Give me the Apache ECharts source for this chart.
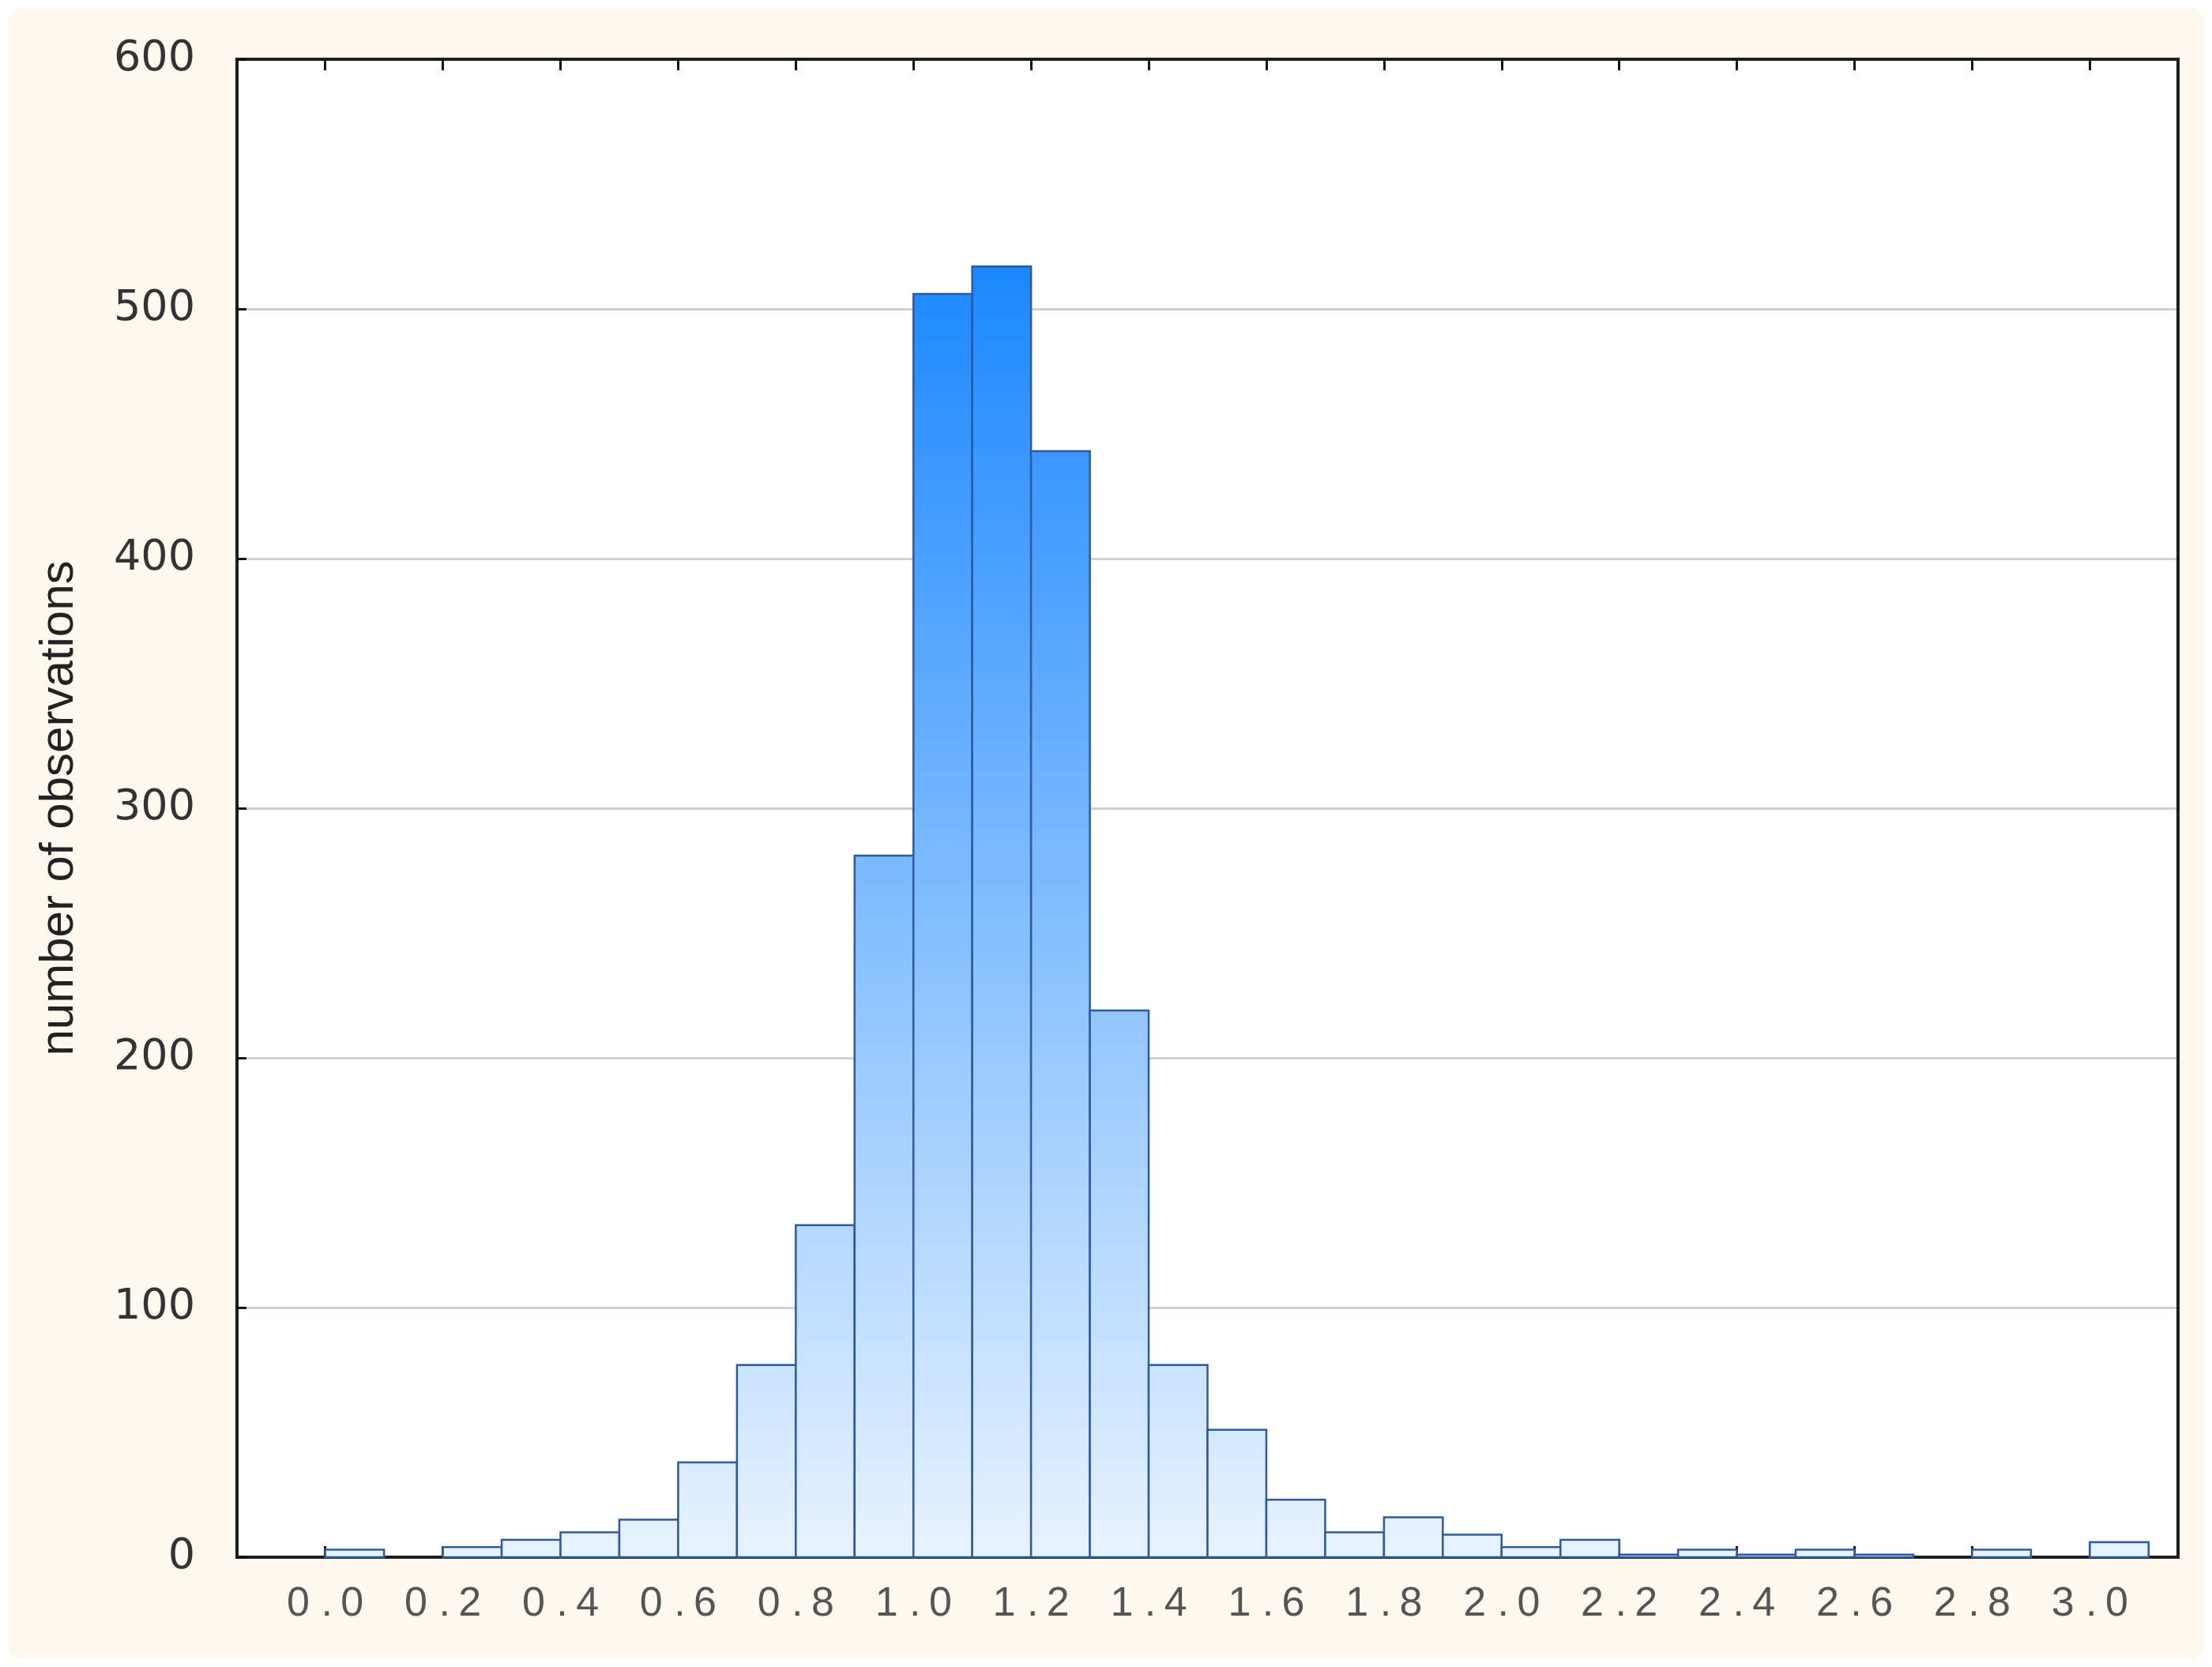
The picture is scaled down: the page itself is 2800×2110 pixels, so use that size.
<!DOCTYPE html>
<html>
<head>
<meta charset="utf-8">
<title>number of observations histogram</title>
<script src="https://cdn.jsdelivr.net/npm/echarts@6/dist/echarts.min.js"></script>
<style>
  html, body { margin: 0; padding: 0; background: #ffffff; }
  #frame {
    position: absolute; left: 10px; top: 10px; width: 2780px; height: 2090px;
    background: #fdf9ef; border-radius: 18px;
  }
  #chart { position: absolute; left: 0; top: 0; width: 2800px; height: 2110px; }
</style>
</head>
<body>
<div id="frame"></div>
<div id="chart"></div>
<script>
// histogram bins (left / right edge of each 0.1 wide bin)
const binStart = [0.0, 0.1, 0.2, 0.3, 0.4, 0.5, 0.6, 0.7, 0.8, 0.9,
                  1.0, 1.1, 1.2, 1.3, 1.4, 1.5, 1.6, 1.7, 1.8, 1.9,
                  2.0, 2.1, 2.2, 2.3, 2.4, 2.5, 2.6, 2.7, 2.8, 2.9, 3.0]
const binEnd = [0.1, 0.2, 0.3, 0.4, 0.5, 0.6, 0.7, 0.8, 0.9, 1.0,
                1.1, 1.2, 1.3, 1.4, 1.5, 1.6, 1.7, 1.8, 1.9, 2.0,
                2.1, 2.2, 2.3, 2.4, 2.5, 2.6, 2.7, 2.8, 2.9, 3.0, 3.1]
const counts = [3, 0, 4, 7, 10, 15, 38, 77, 133, 281,
                506, 517, 443, 219, 77, 51, 23, 10, 16, 9,
                4, 7, 1, 3, 1, 3, 1, 0, 3, 0, 6]

// tick labels
const xTicks = [0.0, 0.2, 0.4, 0.6, 0.8, 1.0, 1.2, 1.4, 1.6, 1.8, 2.0, 2.2, 2.4, 2.6, 2.8, 3.0]
const yAxisName = 'number of observations'

const chart = echarts.init(document.getElementById('chart'))

const histData = binStart.map((x0, i) => [x0, binEnd[i], counts[i]])

// "0 . 0" style labels like the original software
const fmtX = v => {
  const s = Number(v).toFixed(1).split('.')
  return s[0] + ' .\u2009' + s[1]
}

const frameLine = { show: true, onZero: false, lineStyle: { color: '#1e1e1e', width: 4 } }
const tickStyle = { color: '#111', width: 3 }

const option = {
  backgroundColor: 'transparent',
  animation: false,
  grid: {
    left: 300,
    right: 43,
    top: 75,
    bottom: 139,
    show: true,
    backgroundColor: '#ffffff',
    borderColor: '#1e1e1e',
    borderWidth: 4
  },
  xAxis: [
    {
      type: 'value',
      position: 'bottom',
      min: -0.15,
      max: 3.15,
      axisLine: frameLine,
      splitLine: { show: false },
      axisTick: {
        show: true,
        inside: true,
        length: 14,
        customValues: xTicks,
        lineStyle: tickStyle
      },
      axisLabel: {
        customValues: xTicks,
        formatter: fmtX,
        margin: 34,
        color: '#555555',
        fontSize: 52,
        fontFamily: '"Liberation Sans Narrow", "Liberation Sans", Arial, sans-serif'
      }
    },
    {
      type: 'value',
      position: 'top',
      min: -0.15,
      max: 3.15,
      axisLine: frameLine,
      splitLine: { show: false },
      axisLabel: { show: false },
      axisTick: {
        show: true,
        inside: true,
        length: 14,
        customValues: xTicks,
        lineStyle: tickStyle
      }
    }
  ],
  yAxis: [
    {
      type: 'value',
      position: 'left',
      min: 0,
      max: 600,
      interval: 100,
      name: yAxisName,
      nameLocation: 'middle',
      nameRotate: 90,
      nameGap: 195,
      nameTextStyle: {
        color: '#222222',
        fontSize: 60,
        fontFamily: '"Liberation Sans", Arial, sans-serif'
      },
      axisLine: frameLine,
      axisTick: {
        show: true,
        inside: true,
        length: 12,
        lineStyle: tickStyle
      },
      axisLabel: {
        margin: 53,
        color: '#333333',
        fontSize: 54,
        fontFamily: '"DejaVu Sans", sans-serif'
      },
      splitLine: {
        show: true,
        lineStyle: { color: '#d0d0d0', width: 3 }
      }
    },
    {
      type: 'value',
      position: 'right',
      min: 0,
      max: 600,
      interval: 100,
      axisLine: frameLine,
      axisTick: { show: false },
      axisLabel: { show: false },
      splitLine: { show: false }
    }
  ],
  series: [
    {
      type: 'custom',
      xAxisIndex: 0,
      yAxisIndex: 0,
      encode: { x: [0, 1], y: 2 },
      data: histData,
      renderItem: (params, api) => {
        const n = api.value(2)
        if (!n) return null
        const p0 = api.coord([api.value(0), n])
        const p1 = api.coord([api.value(1), 0])
        // gradient spans the whole plot height, not each bar
        const yBase = api.coord([0, 0])[1]
        const yTop = api.coord([0, 520])[1]
        return {
          type: 'rect',
          shape: { x: p0[0], y: p0[1], width: p1[0] - p0[0], height: p1[1] - p0[1] },
          style: {
            fill: new echarts.graphic.LinearGradient(0, yTop, 0, yBase, [
              { offset: 0, color: '#1a87ff' },
              { offset: 1, color: '#e8f3ff' }
            ], true),
            stroke: '#2f5a9e',
            lineWidth: 2.5
          }
        }
      }
    }
  ]
}

chart.setOption(option)

window.addEventListener('resize', () => chart.resize())
</script>
</body>
</html>
